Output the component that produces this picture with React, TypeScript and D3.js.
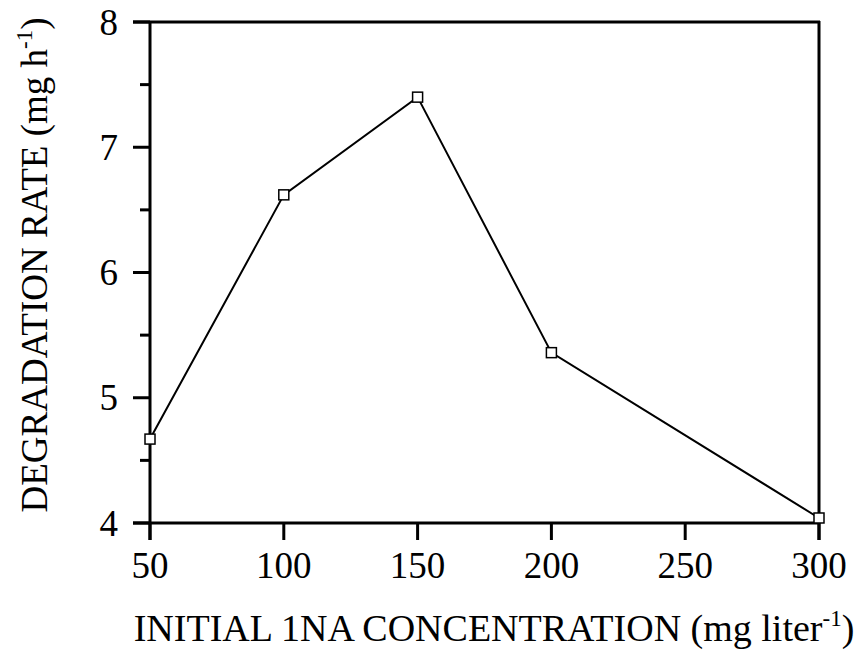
import React from "react";
import * as d3 from "d3";

const concentrations = [50, 100, 150, 200, 300];
const rates = [4.67, 6.62, 7.4, 5.36, 4.04];
const xTicks = [50, 100, 150, 200, 250, 300];
const yTicks = [4, 5, 6, 7, 8];
const yMinorTicks = [4.5, 5.5, 6.5, 7.5];

const W = 866;
const H = 658;
const left = 150;
const right = 819;
const top = 22;
const bottom = 523;
const FONT = "'Liberation Serif', 'Times New Roman', serif";

export default function App() {
  const x = d3.scaleLinear().domain([50, 300]).range([left, right]);
  const y = d3.scaleLinear().domain([4, 8]).range([bottom, top]);
  const pts = concentrations.map((c, i) => [c, rates[i]] as [number, number]);
  const line = d3
    .line<[number, number]>()
    .x((d) => x(d[0]))
    .y((d) => y(d[1]));
  const ms = 10;
  return (
    <svg
      width={W}
      height={H}
      style={{ position: "absolute", left: 0, top: 0, background: "#fff" }}
    >
      <rect x={0} y={0} width={W} height={H} fill="#fff" />
      {/* frame */}
      <line x1={left - 17} x2={right + 1} y1={top} y2={top} stroke="#000" strokeWidth={3} />
      <line x1={left - 17} x2={right + 1} y1={bottom} y2={bottom} stroke="#000" strokeWidth={3} />
      <line x1={left} x2={left} y1={top} y2={bottom + 17} stroke="#000" strokeWidth={3} />
      <line x1={right} x2={right} y1={top - 1} y2={bottom + 17} stroke="#000" strokeWidth={3} />
      {/* y ticks */}
      {yTicks.map((t) => (
        <g key={"y" + t}>
          <line x1={left - 17} x2={left} y1={y(t)} y2={y(t)} stroke="#000" strokeWidth={3} />
          <text
            x={118}
            y={y(t)}
            dy="0.34em"
            textAnchor="end"
            fontFamily={FONT}
            fontSize={37}
            fill="#000"
          >
            {t}
          </text>
        </g>
      ))}
      {yMinorTicks.map((t) => (
        <line key={"ym" + t} x1={left - 10} x2={left} y1={y(t)} y2={y(t)} stroke="#000" strokeWidth={3} />
      ))}
      {/* x ticks */}
      {xTicks.map((t) => (
        <g key={"x" + t}>
          <line x1={x(t)} x2={x(t)} y1={bottom} y2={bottom + 17} stroke="#000" strokeWidth={3} />
          <text
            x={x(t)}
            y={578}
            textAnchor="middle"
            fontFamily={FONT}
            fontSize={37}
            fill="#000"
          >
            {t}
          </text>
        </g>
      ))}
      {/* data */}
      <path d={line(pts) || ""} fill="none" stroke="#000" strokeWidth={2} />
      {pts.map((d, i) => (
        <rect
          key={"m" + i}
          x={x(d[0]) - ms / 2}
          y={y(d[1]) - ms / 2}
          width={ms}
          height={ms}
          fill="#fff"
          stroke="#000"
          strokeWidth={1.5}
        />
      ))}
      {/* axis titles */}
      <text
        x={494}
        y={641}
        textAnchor="middle"
        fontFamily={FONT}
        fontSize={38}
        fill="#000"
      >
        INITIAL 1NA CONCENTRATION (mg liter
        <tspan fontSize={23} dy={-15}>-1</tspan>
        <tspan dy={15}>)</tspan>
      </text>
      <text
        transform="translate(47,265) rotate(-90)"
        textAnchor="middle"
        fontFamily={FONT}
        fontSize={37}
        fill="#000"
      >
        DEGRADATION RATE (mg h
        <tspan fontSize={23} dy={-15}>-1</tspan>
        <tspan dy={15}>)</tspan>
      </text>
    </svg>
  );
}
